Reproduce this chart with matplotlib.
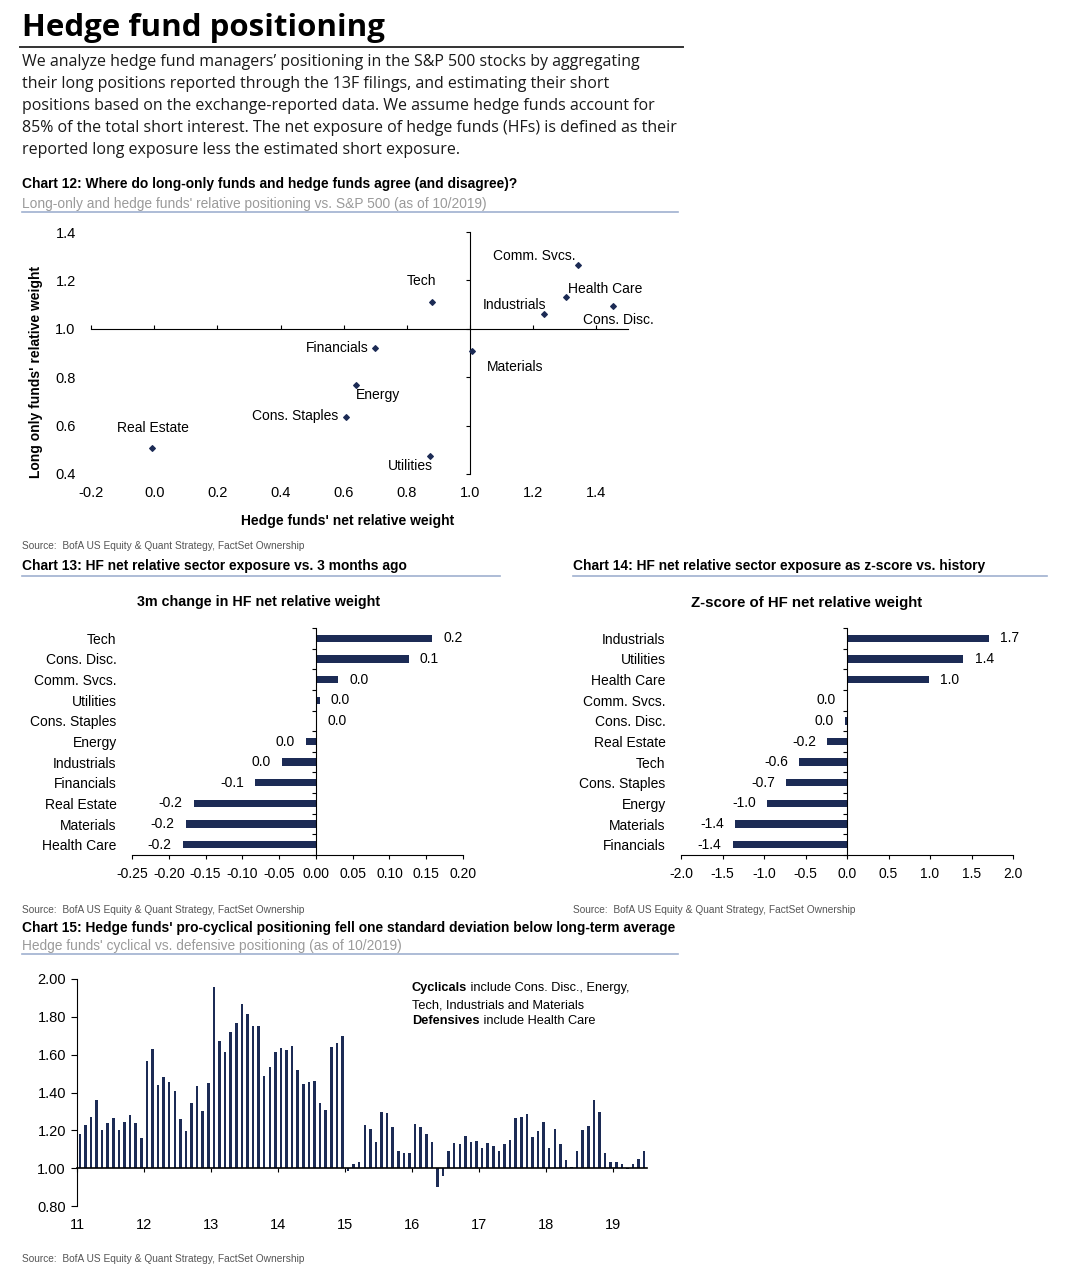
import numpy as np
import matplotlib
matplotlib.use('Agg')
import matplotlib.pyplot as plt
from matplotlib.lines import Line2D

# ---- data ----
sectors12 = ['Comm. Svcs.', 'Health Care', 'Cons. Disc.', 'Industrials', 'Tech', 'Financials',
             'Materials', 'Energy', 'Cons. Staples', 'Real Estate', 'Utilities']
hf_net = [1.343, 1.305, 1.453, 1.233, 0.880, 0.698, 1.006, 0.640, 0.606, -0.007, 0.872]
lo_rel = [1.265, 1.130, 1.094, 1.061, 1.112, 0.921, 0.909, 0.768, 0.636, 0.506, 0.476]

sectors13 = ['Tech', 'Cons. Disc.', 'Comm. Svcs.', 'Utilities', 'Cons. Staples', 'Energy',
             'Industrials', 'Financials', 'Real Estate', 'Materials', 'Health Care']
chg_3m = [0.158, 0.126, 0.030, 0.005, 0.001, -0.014, -0.046, -0.083, -0.166, -0.177, -0.181]

sectors14 = ['Industrials', 'Utilities', 'Health Care', 'Comm. Svcs.', 'Cons. Disc.', 'Real Estate',
             'Tech', 'Cons. Staples', 'Energy', 'Materials', 'Financials']
zscore = [1.715, 1.403, 0.990, -0.004, -0.030, -0.236, -0.573, -0.729, -0.966, -1.351, -1.379]

# monthly, Jan 2011 .. Jun 2019
cyc_def = [1.18, 1.23, 1.27, 1.36, 1.20, 1.24, 1.265, 1.20, 1.245, 1.28, 1.24, 1.16,
           1.565, 1.63, 1.44, 1.48, 1.455, 1.41, 1.26, 1.195, 1.345, 1.435, 1.30, 1.45,
           1.96, 1.67, 1.615, 1.72, 1.77, 1.87, 1.815, 1.75, 1.75, 1.485, 1.535, 1.615,
           1.635, 1.625, 1.645, 1.52, 1.445, 1.455, 1.46, 1.345, 1.31, 1.64, 1.66, 1.70,
           0.985, 1.02, 1.03, 1.23, 1.205, 1.14, 1.295, 1.29, 1.215, 1.09, 1.08, 1.08,
           1.235, 1.22, 1.18, 1.14, 0.90, 0.96, 1.09, 1.135, 1.13, 1.17, 1.14, 1.145,
           1.105, 1.135, 1.115, 1.09, 1.13, 1.15, 1.265, 1.27, 1.285, 1.165, 1.195, 1.245,
           1.105, 1.205, 1.13, 1.045, 1.005, 1.09, 1.20, 1.225, 1.36, 1.295, 1.08, 1.03,
           1.035, 1.02, 0.995, 1.02, 1.05, 1.09]
years = ['11', '12', '13', '14', '15', '16', '17', '18', '19']

# ---- style ----
body = 'Open Sans'
plt.rcParams['font.family'] = ['Liberation Sans', 'DejaVu Sans']
navy = '#1c2b55'
W, H = 1086, 1280
fs_head = 9.9     # chart headers
fs_txt = 10       # ticks, categories, labels
fs_src = 7.3


def fx(x):
    return x / W


def fy(y):
    return 1 - y / H


def hline(x0, x1, y, color, lw):
    fig.add_artist(Line2D([fx(x0), fx(x1)], [fy(y), fy(y)], transform=fig.transFigure, color=color, lw=lw))


def fmt1(v):
    s = f'{v:.1f}'
    return '0.0' if s == '-0.0' else s


def fmt2(v):
    s = f'{v:.2f}'
    return '0.00' if s == '-0.00' else s


fig = plt.figure(figsize=(W / 100, H / 100), dpi=100)

# ---- header ----
fig.text(fx(22), fy(28), 'Hedge fund positioning', family=body, fontsize=22.5, fontweight='bold', va='center')
hline(20, 683, 47, '#333333', 1.4)
intro = ['We analyze hedge fund managers\u2019 positioning in the S&P 500 stocks by aggregating',
         'their long positions reported through the 13F filings, and estimating their short',
         'positions based on the exchange-reported data. We assume hedge funds account for',
         '85% of the total short interest. The net exposure of hedge funds (HFs) is defined as their',
         'reported long exposure less the estimated short exposure.']
for i, line in enumerate(intro):
    fig.text(fx(22), fy(62 + 22 * i), line, family=body, fontsize=11.5, va='center', color='#1a1a1a')

src = 'Source:  BofA US Equity & Quant Strategy, FactSet Ownership'

# ---- chart 12 : scatter ----
fig.text(fx(22), fy(184), 'Chart 12: Where do long-only funds and hedge funds agree (and disagree)?',
         fontsize=fs_head, fontweight='bold', va='center')
fig.text(fx(22), fy(204), 'Long-only and hedge funds\' relative positioning vs. S&P 500 (as of 10/2019)',
         fontsize=9.9, color='#9a9a9a', va='center')
hline(22, 678, 212, '#9fb0cf', 1.2)

ax1 = fig.add_axes([fx(91), fy(474), (628 - 91) / W, (474 - 232) / H])
ax1.scatter(hf_net, lo_rel, marker='D', s=8, color=navy, zorder=3)
ax1.set_xlim(-0.2, 1.5)
ax1.set_ylim(0.4, 1.4)
ax1.spines[['top', 'right']].set_visible(False)
ax1.spines['left'].set_position(('data', 1.0))
ax1.spines['bottom'].set_position(('data', 1.0))
xt = np.arange(-0.2, 1.41, 0.2)
yt = np.arange(0.4, 1.41, 0.2)
ax1.set_xticks(xt)
ax1.set_yticks(yt)
ax1.tick_params(axis='x', direction='in', length=3, labelbottom=False)
ax1.tick_params(axis='y', direction='out', length=3, labelleft=False)
ax1.patch.set_alpha(0)
sx = ax1.secondary_xaxis('bottom')
sx.set_ticks(xt, labels=[fmt1(v) for v in xt])
sx.spines['bottom'].set_visible(False)
sx.tick_params(length=0, pad=9, labelsize=10.5)
sy = ax1.secondary_yaxis('left')
sy.set_ticks(yt, labels=[fmt1(v) for v in yt])
sy.spines['left'].set_visible(False)
sy.tick_params(length=0, pad=11, labelsize=10.5)

# label offsets in pixels (dx, dy, ha)
lab_pos = {'Comm. Svcs.': (-44, 9, 'center'), 'Health Care': (2, 8, 'left'), 'Cons. Disc.': (5, -14, 'center'),
           'Industrials': (-29, 9, 'center'), 'Tech': (-11, 21, 'center'), 'Financials': (-6, 0, 'right'),
           'Materials': (43, -16, 'center'), 'Energy': (22, -10, 'center'), 'Cons. Staples': (-7, 1, 'right'),
           'Real Estate': (1, 20, 'center'), 'Utilities': (-19, -10, 'center')}
for name, xv, yv in zip(sectors12, hf_net, lo_rel):
    dx, dy, ha = lab_pos[name]
    ax1.annotate(name, (xv, yv), xytext=(dx * 0.72, dy * 0.72), textcoords='offset points',
                 ha=ha, va='center', fontsize=fs_txt)
fig.text(fx(348), fy(521), 'Hedge funds\' net relative weight', fontsize=fs_txt, fontweight='bold',
         ha='center', va='center')
fig.text(fx(36), fy(372), 'Long only funds\' relative weight', fontsize=fs_txt, fontweight='bold',
         ha='center', va='center', rotation=90)
fig.text(fx(22), fy(546), src, fontsize=fs_src, color='#555555', va='center')


# ---- charts 13 & 14 : horizontal bars ----
def hbar_panel(rect, cats, vals, xlim, xticks, tickfmt):
    ax = fig.add_axes(rect)
    ypos = np.arange(len(cats))[::-1]
    ax.barh(ypos, vals, height=0.36, color=navy)
    ax.set_xlim(*xlim)
    ax.set_ylim(-0.5, len(cats) - 0.5)
    ax.spines[['top', 'right']].set_visible(False)
    ax.spines['left'].set_position(('data', 0))
    ax.set_yticks(np.arange(len(cats) + 1) - 0.5)
    ax.tick_params(axis='y', direction='out', length=3, labelleft=False)
    ax.set_xticks(xticks)
    ax.set_xticklabels([tickfmt(v) for v in xticks])
    ax.tick_params(axis='x', direction='out', length=3, pad=6, labelsize=fs_txt)
    sy = ax.secondary_yaxis('left')
    sy.set_ticks(ypos, labels=cats)
    sy.spines['left'].set_visible(False)
    sy.tick_params(length=0, pad=11, labelsize=fs_txt)
    for yv, v in zip(ypos, vals):
        ax.annotate(fmt1(v), (v, yv), xytext=(8 if v >= 0 else -8, 0), textcoords='offset points',
                    ha='left' if v >= 0 else 'right', va='center', fontsize=fs_txt)
    return ax


fig.text(fx(22), fy(566), 'Chart 13: HF net relative sector exposure vs. 3 months ago',
         fontsize=fs_head, fontweight='bold', va='center')
hline(22, 500, 576, '#9fb0cf', 1.2)
fig.text(fx(259), fy(602), '3m change in HF net relative weight', fontsize=10.3, fontweight='bold',
         ha='center', va='center')
hbar_panel([fx(132), fy(855), (463 - 132) / W, (855 - 628) / H], sectors13, chg_3m,
           (-0.25, 0.20), np.arange(-0.25, 0.201, 0.05), fmt2)
fig.text(fx(22), fy(910), src, fontsize=fs_src, color='#555555', va='center')

fig.text(fx(573), fy(566), 'Chart 14: HF net relative sector exposure as z-score vs. history',
         fontsize=fs_head, fontweight='bold', va='center')
hline(573, 1047, 576, '#9fb0cf', 1.2)
fig.text(fx(807), fy(603), 'Z-score of HF net relative weight', fontsize=10.8, fontweight='bold',
         ha='center', va='center')
hbar_panel([fx(681), fy(855), (1013 - 681) / W, (855 - 628) / H], sectors14, zscore,
           (-2.0, 2.0), np.arange(-2.0, 2.01, 0.5), fmt1)
fig.text(fx(573), fy(910), src, fontsize=fs_src, color='#555555', va='center')

# ---- chart 15 : cyclical vs defensive ----
fig.text(fx(22), fy(928), 'Chart 15: Hedge funds\' pro-cyclical positioning fell one standard deviation below long-term average',
         fontsize=fs_head, fontweight='bold', va='center')
fig.text(fx(22), fy(946), 'Hedge funds\' cyclical vs. defensive positioning (as of 10/2019)',
         fontsize=9.9, color='#9a9a9a', va='center')
hline(22, 678, 954, '#9fb0cf', 1.2)

ax4 = fig.add_axes([fx(77), fy(1206), (647 - 77) / W, (1206 - 979) / H])
xm = np.arange(len(cyc_def))
ax4.bar(xm, np.array(cyc_def) - 1.0, bottom=1.0, width=0.45, color=navy)
ax4.set_xlim(-0.5, len(cyc_def) - 0.5)
ax4.set_ylim(0.8, 2.0)
ax4.spines[['top', 'right']].set_visible(False)
ax4.spines['bottom'].set_position(('data', 1.0))
ax4.spines['bottom'].set_linewidth(1.2)
ax4.set_xticks(np.arange(0, 12 * len(years), 12) - 0.5)
ax4.set_xticklabels(years)
ax4.tick_params(axis='x', direction='out', length=3, pad=33, labelsize=10.5)
yt4 = np.arange(0.8, 2.01, 0.2)
ax4.set_yticks(yt4)
ax4.set_yticklabels([fmt2(v) for v in yt4])
ax4.tick_params(axis='y', direction='out', length=4, pad=4, labelsize=10.5)

fs_note = 9.2
t1 = fig.text(fx(412), fy(988), 'Cyclicals', fontsize=fs_note, fontweight='bold', va='center')
ax4.annotate(' include Cons. Disc., Energy,', xy=(1, 0.5), xycoords=t1, va='center', fontsize=fs_note)
fig.text(fx(412), fy(1005), 'Tech, Industrials and Materials', fontsize=fs_note, va='center')
t2 = fig.text(fx(412), fy(1021), 'Defensives', fontsize=fs_note, fontweight='bold', va='center')
ax4.annotate(' include Health Care', xy=(1, 0.5), xycoords=t2, va='center', fontsize=fs_note)
fig.text(fx(22), fy(1259), src, fontsize=fs_src, color='#555555', va='center')

fig.savefig('out.png', dpi=100)
